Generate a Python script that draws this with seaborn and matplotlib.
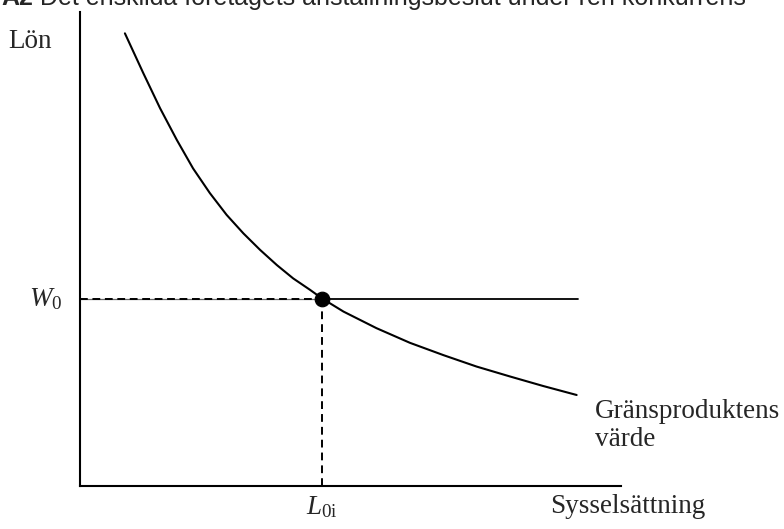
import matplotlib
matplotlib.use("Agg")
import matplotlib.pyplot as plt
import seaborn as sns
import pandas as pd

# ---- data (arbitrary units 0..100) ----
labour = [8.3, 11.7, 14.8, 17.9, 20.9, 24.0, 27.1, 30.2, 33.3, 36.4, 39.4,
          42.5, 44.7, 48.7, 54.8, 61.0, 67.2, 73.3, 79.5, 85.6, 91.8]
mrp_value = [95.5, 87.1, 79.7, 73.0, 67.0, 61.8, 57.2, 53.3, 49.8, 46.6, 43.8,
             41.4, 39.6, 36.8, 33.3, 30.2, 27.6, 25.2, 23.1, 21.1, 19.2]
wage_w0 = 39.4
labour_l0 = 44.7
wage_line_end = 92.1

title_bold = "A2"
title_rest = " Det enskilda företagets anställningsbeslut under ren konkurrens"
y_label = "Lön"
x_label = "Sysselsättning"
curve_label = "Gränsproduktens\nvärde"
w_label = r"$W_0$"
l_label = r"$L_{\mathrm{0i}}$"

sns.set_style("white")
plt.rcParams["font.family"] = ["Liberation Serif", "DejaVu Serif"]
plt.rcParams["mathtext.fontset"] = "custom"
plt.rcParams["mathtext.rm"] = "Liberation Serif"
plt.rcParams["mathtext.it"] = "Liberation Serif:italic"

W, H = 784, 529
fig = plt.figure(figsize=(W / 100, H / 100), dpi=100)
ax = fig.add_axes([80 / W, (H - 486) / H, 541 / W, 474 / H])
ax.set_xlim(0, 100)
ax.set_ylim(0, 100)
ax.set_xticks([])
ax.set_yticks([])
for s in ["top", "right"]:
    ax.spines[s].set_visible(False)
for s in ["left", "bottom"]:
    ax.spines[s].set_color("black")
    ax.spines[s].set_linewidth(1.5)

df = pd.DataFrame({"L": labour, "VMP": mrp_value})
sns.lineplot(data=df, x="L", y="VMP", ax=ax, color="black", lw=1.5,
             sort=False, clip_on=False)

# wage line: dashed to the left of the point, solid to the right
ax.plot([0, labour_l0], [wage_w0, wage_w0], color="#666666", lw=0.9)
ax.plot([0, labour_l0], [wage_w0, wage_w0], color="black", lw=1.4,
        dashes=(4, 2.4))
ax.plot([labour_l0, wage_line_end], [wage_w0, wage_w0], color="black", lw=1.3)
ax.plot([labour_l0, labour_l0], [0, wage_w0], color="black", lw=1.4,
        dashes=(4, 2.6))

pt = pd.DataFrame({"L": [labour_l0], "W": [wage_w0]})
sns.scatterplot(data=pt, x="L", y="W", ax=ax, color="black", s=110,
                edgecolor="black", zorder=5, clip_on=False)
ax.set_xlabel("")
ax.set_ylabel("")

fs = 19.5
ax.text(-13.3, 93.7, y_label, ha="left", va="center", fontsize=fs,
        clip_on=False)
ax.text(-3.3, wage_w0, w_label, ha="right", va="center", fontsize=fs,
        clip_on=False)
ax.text(labour_l0, -4.4, l_label, ha="center", va="center", fontsize=fs,
        clip_on=False)
ax.text(86.9, -4.4, x_label, ha="left", va="center", fontsize=fs,
        clip_on=False)
ax.text(95.2, 12.8, curve_label, ha="left", va="center", fontsize=fs,
        linespacing=1.15, clip_on=False)

t1 = fig.text(1 / W, 1 - 5 / H, title_bold, ha="left", va="baseline",
              fontsize=18, fontweight="bold", family="Liberation Sans")
fig.text(0, 0, title_rest, fontsize=18, family="Liberation Sans",
         ha="left", va="bottom",
         transform=matplotlib.transforms.offset_copy(
             fig.transFigure, fig=fig, x=0, y=0, units="dots"))
fig.texts[-1].remove()
ann = fig.add_artist(matplotlib.text.Annotation(
    title_rest, xy=(1, 0), xycoords=t1, ha="left", va="bottom",
    fontsize=18, family="Liberation Sans"))

fig.savefig("out.png", dpi=100)
